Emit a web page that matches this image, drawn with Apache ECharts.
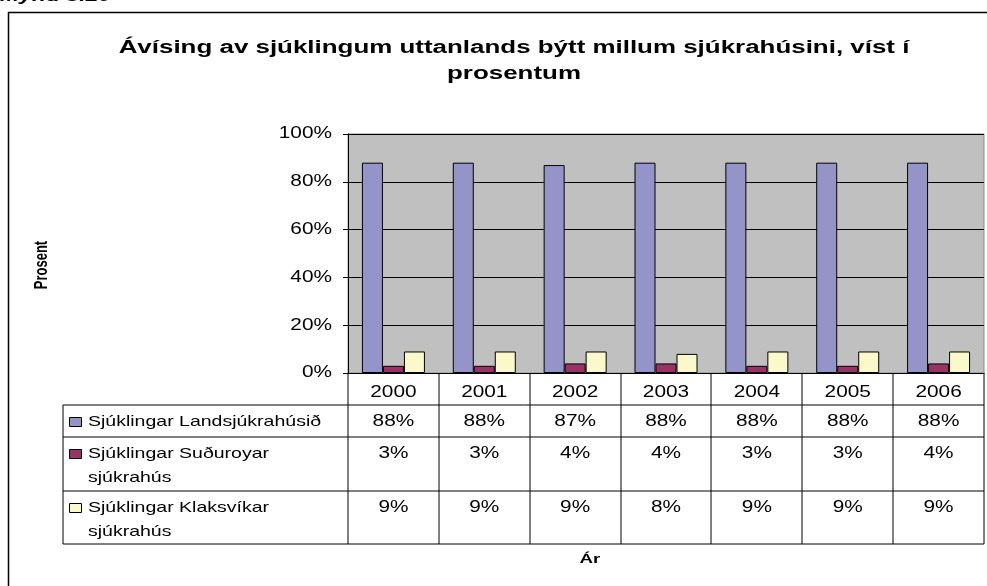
<!DOCTYPE html>
<html>
<head>
<meta charset="utf-8">
<script src="https://cdn.jsdelivr.net/npm/echarts@6/dist/echarts.min.js"></script>
<style>
html,body{margin:0;padding:0;background:#fff;}
#c{width:987px;height:586px;}
</style>
</head>
<body>
<div id="c"></div>
<script>
const years = ['2000','2001','2002','2003','2004','2005','2006'];
const seriesNames = [['Sjúklingar Landsjúkrahúsið'], ['Sjúklingar Suðuroyar', 'sjúkrahús'], ['Sjúklingar Klaksvíkar', 'sjúkrahús']];
const landsValues = [88, 88, 87, 88, 88, 88, 88];
const sudurValues = [3, 3, 4, 4, 3, 3, 4];
const klakValues = [9, 9, 9, 8, 9, 9, 9];
const yTicks = [0, 20, 40, 60, 80, 100];
const colors = ['#9494c8', '#993366', '#fbf9cc'];

// The reference picture is horizontally stretched; emulate by widening glyphs along screen x.
(function () {
  const P = CanvasRenderingContext2D.prototype;
  const factor = function (ctx) {
    return /bold/.test(ctx.font || '') ? 1.44 : 1.3;
  };
  const of = P.fillText, om = P.measureText;
  P.fillText = function (text, x, y) {
    const t = this.getTransform();
    const s = factor(this);
    const px = t.a * x + t.c * y + t.e;
    this.setTransform(s * t.a, t.b, s * t.c, t.d, s * (t.e - px) + px, t.f);
    of.call(this, text, x, y);
    this.setTransform(t);
  };
  P.measureText = function (text) {
    const m = om.call(this, text);
    const s = factor(this);
    return {
      width: m.width * s,
      actualBoundingBoxLeft: m.actualBoundingBoxLeft * s,
      actualBoundingBoxRight: m.actualBoundingBoxRight * s,
      actualBoundingBoxAscent: m.actualBoundingBoxAscent,
      actualBoundingBoxDescent: m.actualBoundingBoxDescent,
      fontBoundingBoxAscent: m.fontBoundingBoxAscent,
      fontBoundingBoxDescent: m.fontBoundingBoxDescent
    };
  };
})();

const FONT = 'Liberation Sans, Arial, sans-serif';
const chart = echarts.init(document.getElementById('c'));
const allValues = [landsValues, sudurValues, klakValues];

const option = {
  animation: false,
  backgroundColor: '#fff',
  title: {
    text: 'Ávísing av sjúklingum uttanlands býtt millum sjúkrahúsini, víst í\nprosentum',
    left: 509, top: 30, textAlign: 'center',
    textStyle: {fontFamily: FONT, fontSize: 18, fontWeight: 'bold', color: '#000', lineHeight: 26}
  },
  grid: {left: 348, top: 134, right: 3, bottom: 213, show: true, backgroundColor: '#c0c0c0', borderColor: '#8a8a8a', borderWidth: 1},
  xAxis: {
    type: 'category', data: years,
    axisLine: {lineStyle: {color: '#000', width: 1}},
    axisTick: {show: false},
    axisLabel: {fontFamily: FONT, fontSize: 16, color: '#000', margin: 9}
  },
  yAxis: {
    type: 'value', min: yTicks[0], max: yTicks[yTicks.length - 1], interval: 20,
    axisLine: {show: true, lineStyle: {color: '#000'}},
    axisTick: {show: true, length: 5, lineStyle: {color: '#000'}},
    axisLabel: {formatter: '{value}%', fontFamily: FONT, fontSize: 16, color: '#000', margin: 16},
    splitLine: {lineStyle: {color: '#000', width: 1}}
  },
  series: allValues.map((vals, i) => ({
    type: 'bar', name: seriesNames[i].join(' '), data: vals,
    barWidth: 21, barGap: '0%',
    itemStyle: {color: colors[i], borderColor: '#000', borderWidth: 1}
  }))
};
chart.setOption(option);

// Build data table and decorations
const c0 = chart.convertToPixel({xAxisIndex: 0}, 0);
const c1 = chart.convertToPixel({xAxisIndex: 0}, 1);
const band = c1 - c0;
const plotRight = 984;
const tblLeft = 63;
const rowY = [373, 405, 437, 491, 544];
const g = [];
const line = (x1, y1, x2, y2, w, col) => g.push({type: 'line', shape: {x1, y1, x2, y2}, style: {stroke: col || '#000', lineWidth: w || 1}, silent: true});

for (let r = 1; r < rowY.length; r++) line(tblLeft, rowY[r], plotRight, rowY[r]);
line(tblLeft, rowY[1], tblLeft, rowY[4]);
for (let k = 0; k <= years.length; k++) {
  const x = Math.round(c0 - band / 2 + k * band);
  line(x, rowY[0], x, rowY[4]);
}
const textRowsY = [[422], [454, 478], [508, 532]];
for (let i = 0; i < 3; i++) {
  g.push({type: 'rect', shape: {x: 69.5, y: textRowsY[i][0] - 4.5, width: 12, height: 9}, style: {fill: colors[i], stroke: '#000', lineWidth: 1}, silent: true});
  seriesNames[i].forEach((t, j) => {
    g.push({type: 'text', style: {x: 88, y: textRowsY[i][j], text: t, fill: '#000', font: '15px ' + FONT, textVerticalAlign: 'middle'}, silent: true});
  });
  allValues[i].forEach((v, k) => {
    const x = chart.convertToPixel({xAxisIndex: 0}, k);
    g.push({type: 'text', style: {x: x, y: textRowsY[i][0], text: v + '%', fill: '#000', font: '16px ' + FONT, textAlign: 'center', textVerticalAlign: 'middle'}, silent: true});
  });
}
g.push({type: 'text', rotation: Math.PI / 2, x: 42, y: 265, style: {x: 0, y: 0, text: 'Prosent', fill: '#000', font: 'bold 13px ' + FONT, textAlign: 'center', textVerticalAlign: 'middle'}, silent: true});
g.push({type: 'text', style: {x: 590, y: 559, text: 'Ár', fill: '#000', font: 'bold 13px ' + FONT, textAlign: 'center', textVerticalAlign: 'middle'}, silent: true});
g.push({type: 'polyline', shape: {points: [[988, 12.5], [8.5, 12.5], [8.5, 590]]}, style: {stroke: '#000', lineWidth: 1.5, fill: null}, silent: true});
g.push({type: 'text', style: {x: 0, y: 8, text: 'Mynd 3.20', fill: '#000', font: 'italic bold 16px ' + FONT, textVerticalAlign: 'bottom'}, silent: true});

chart.setOption({graphic: {elements: g}});
</script>
</body>
</html>
